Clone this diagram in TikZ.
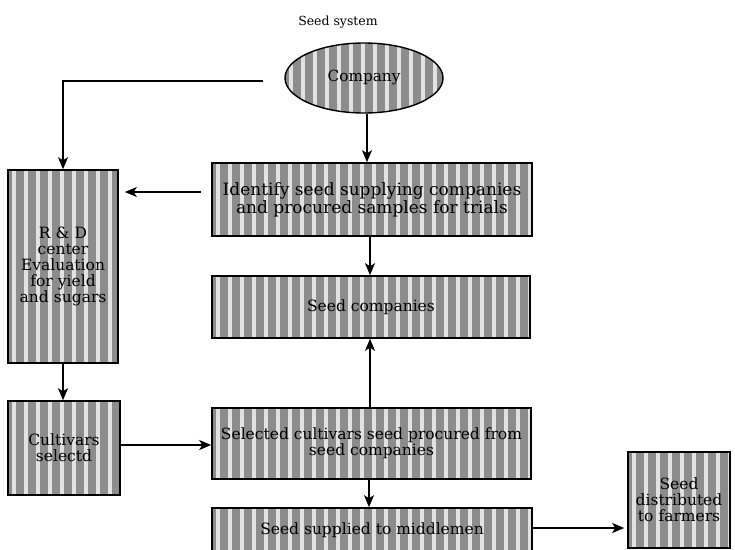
\documentclass[tikz,border=0pt]{standalone}
\usepackage{fontspec}
\setmainfont{DejaVu Serif}
\usetikzlibrary{shapes.geometric,arrows.meta}
\definecolor{dotgray}{gray}{0.55}
\tikzset{
  striped/.style={
    fill=dotgray,
    path picture={
      \foreach \i in {0,...,30}{
        \draw[white, line width=3.2pt, opacity=0.75]
          ([xshift=\i*12pt+6pt]path picture bounding box.south west) --
          ([xshift=\i*12pt+6pt]path picture bounding box.north west);
      }
    }
  },
  box/.style={draw=black, line width=1.6pt, striped, rectangle, inner sep=2pt,
    align=center, font=\fontsize{15.5}{16}\selectfont},
  oval/.style={draw=black, line width=1.4pt, striped, ellipse, inner sep=0pt,
    font=\fontsize{15.3}{16}\selectfont},
  arr/.style={line width=1.4pt, -{Stealth[length=12pt,width=10pt,inset=3pt]}},
  x=1pt, y=-1pt
}
\begin{document}
\begin{tikzpicture}
\useasboundingbox (0,0) rectangle (735,549);

\node[font=\fontsize{12.5}{14}\selectfont] (title) at (338,22) {Seed system};

\node[oval, minimum width=158pt, minimum height=70pt] (company) at (364,78) {\raisebox{-3pt}{Company}};

\node[box, minimum width=320pt, minimum height=73pt, font=\fontsize{17}{18}\selectfont] (identify) at (372,199.5)
  {Identify seed supplying companies\\and procured samples for trials};
\node[box, minimum width=318pt, minimum height=62pt] (seedco) at (371,307) {Seed companies};
\node[box, minimum width=319pt, minimum height=71pt] (selected) at (371.5,443.5)
  {Selected cultivars seed procured from\\seed companies};
\node[box, minimum width=320pt, minimum height=44pt] (supplied) at (372,530)
  {\raisebox{1pt}{Seed supplied to middlemen}};

\node[box, minimum width=110pt, minimum height=193pt, text width=104pt] (rd) at (63,266.5)
  {R \& D\\center\\Evaluation\\for yield\\and sugars};
\node[box, minimum width=112pt, minimum height=94pt, text width=104pt] (cultivars) at (64,448)
  {Cultivars\\selectd};
\node[box, minimum width=102pt, minimum height=96pt, text width=96pt] (distributed) at (679,500)
  {Seed\\distributed\\to farmers};

\coordinate (lstart) at (263,81);

% connectors
\draw[arr] (lstart) -| (rd.north);
\draw[arr] ([xshift=3pt]company.south) -- ([xshift=3pt]company.south |- identify.north);
\draw[arr, shorten <=10pt, shorten >=6pt]
  ([yshift=7.5pt]identify.west) -- ([yshift=7.5pt]identify.west -| rd.east);
\draw[arr] ([xshift=-2pt]identify.south) -- ([xshift=-2pt]identify.south |- seedco.north);
\draw[arr] ([xshift=-1.5pt]selected.north) -- ([xshift=-1.5pt]selected.north |- seedco.south);
\draw[arr] ([xshift=-2.5pt]selected.south) -- ([xshift=-2.5pt]selected.south |- supplied.north);
\draw[arr] (rd.south) -- (rd.south |- cultivars.north);
\draw[arr] ([yshift=3pt]cultivars.east) -- ([yshift=3pt]cultivars.east -| selected.west);
\draw[arr, shorten >=3pt] ([yshift=2pt]supplied.east) -- ([yshift=2pt]supplied.east -| distributed.west);
\end{tikzpicture}
\end{document}
